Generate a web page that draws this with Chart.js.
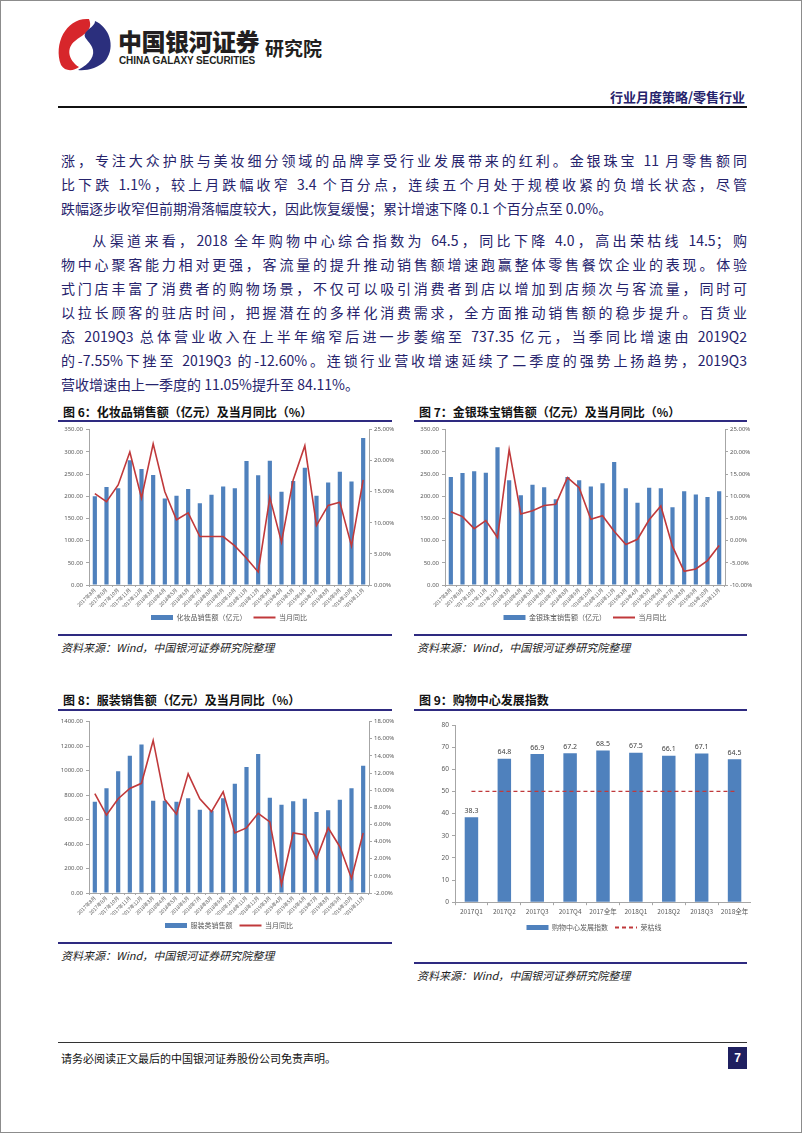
<!DOCTYPE html>
<html>
<head>
<meta charset="utf-8">
<script src="https://cdn.jsdelivr.net/npm/chart.js@4.4.1/dist/chart.umd.min.js"></script>
<style>
  html, body { margin: 0; padding: 0; background: #fff; }
  #page { position: relative; width: 800px; height: 1131px; border: 1px solid #8c8c8c; overflow: hidden;
          font-family: "Noto Sans CJK SC", sans-serif; }
  .txt { position: absolute; left: 60px; width: 686px; font-size: 14px; line-height: 18px; color: #26236c;
         text-align: justify; text-align-last: justify; }
  .txt.last { text-align-last: left; }
  .cap { position: absolute; font-size: 12px; font-weight: bold; color: #111; white-space: nowrap; }
  .rule { position: absolute; height: 2px; background: #2e2a80; }
  .src { position: absolute; font-size: 11px; font-style: italic; color: #222; white-space: nowrap; }
  .box { position: absolute; }
</style>
</head>
<body>
<div id="page">
  <!-- header -->
  <svg style="position:absolute;left:0;top:0" width="140" height="80">
    <path d="M88 18 C66 16 52 42 60 64 C64 71 73 70 78 66 C67 59 65 47 74 40 C81 34 93 30 88 18 Z" fill="#d7262b"/>
    <path d="M94 20 C108 26 115 45 105 59 C97 68 84 70 77 69 C89 63 95 54 91 46 C87 38 80 36 86 30 C90 26 94 24 94 20 Z" fill="#2b2f7d"/>
  </svg>
  <div style="position:absolute;left:117px;top:22px;font-size:24px;font-weight:900;color:#231f20;letter-spacing:-0.5px">中国银河证券</div>
  <div style="position:absolute;left:118px;top:54px;font-size:10px;font-weight:bold;color:#231f20;font-family:'Liberation Sans Narrow','Liberation Sans',sans-serif;letter-spacing:-0.1px">CHINA GALAXY SECURITIES</div>
  <div style="position:absolute;left:264px;top:33px;font-size:19px;font-weight:bold;color:#231f20">研究院</div>
  <div style="position:absolute;right:56px;top:86px;font-size:13px;font-weight:bold;color:#26236c">行业月度策略/零售行业</div>
  <div style="position:absolute;left:57px;top:105px;width:689px;height:2px;background:#111"></div>

  <!-- body text -->
  <div class="txt" style="top:150px">涨，专注大众护肤与美妆细分领域的品牌享受行业发展带来的红利。金银珠宝 11 月零售额同</div>
  <div class="txt" style="top:174px">比下跌 1.1%，较上月跌幅收窄 3.4 个百分点，连续五个月处于规模收紧的负增长状态，尽管</div>
  <div class="txt last" style="top:198px">跌幅逐步收窄但前期滑落幅度较大，因此恢复缓慢；累计增速下降 0.1 个百分点至 0.0%。</div>
  <div class="txt" style="top:230px">&emsp;&emsp;从渠道来看，2018 全年购物中心综合指数为 64.5，同比下降 4.0，高出荣枯线 14.5；购</div>
  <div class="txt" style="top:254px">物中心聚客能力相对更强，客流量的提升推动销售额增速跑赢整体零售餐饮企业的表现。体验</div>
  <div class="txt" style="top:278px">式门店丰富了消费者的购物场景，不仅可以吸引消费者到店以增加到店频次与客流量，同时可</div>
  <div class="txt" style="top:302px">以拉长顾客的驻店时间，把握潜在的多样化消费需求，全方面推动销售额的稳步提升。百货业</div>
  <div class="txt" style="top:326px">态 2019Q3 总体营业收入在上半年缩窄后进一步萎缩至 737.35 亿元，当季同比增速由 2019Q2</div>
  <div class="txt" style="top:350px">的-7.55%下挫至 2019Q3 的-12.60%。连锁行业营收增速延续了二季度的强势上扬趋势，2019Q3</div>
  <div class="txt last" style="top:374px">营收增速由上一季度的 11.05%提升至 84.11%。</div>

  <!-- figure 6 / 7 -->
  <div class="cap" style="left:62px;top:402px">图 6：化妆品销售额（亿元）及当月同比（%）</div>
  <div class="rule" style="left:57px;top:419px;width:334px"></div>
  <div class="box" style="left:58px;top:422px;width:340px;height:210px"><canvas id="c6"></canvas></div>
  <div class="rule" style="left:57px;top:633px;width:334px"></div>
  <div class="src" style="left:60px;top:638px">资料来源：Wind，中国银河证券研究院整理</div>

  <div class="cap" style="left:418px;top:402px">图 7：金银珠宝销售额（亿元）及当月同比（%）</div>
  <div class="rule" style="left:413px;top:419px;width:333px"></div>
  <div class="box" style="left:414px;top:422px;width:340px;height:210px"><canvas id="c7"></canvas></div>
  <div class="rule" style="left:413px;top:633px;width:333px"></div>
  <div class="src" style="left:416px;top:638px">资料来源：Wind，中国银河证券研究院整理</div>

  <!-- figure 8 / 9 -->
  <div class="cap" style="left:62px;top:690px">图 8：服装销售额（亿元）及当月同比（%）</div>
  <div class="rule" style="left:57px;top:708px;width:334px"></div>
  <div class="box" style="left:58px;top:714px;width:340px;height:226px"><canvas id="c8"></canvas></div>
  <div class="rule" style="left:57px;top:941px;width:334px"></div>
  <div class="src" style="left:60px;top:946px">资料来源：Wind，中国银河证券研究院整理</div>

  <div class="cap" style="left:418px;top:690px">图 9：购物中心发展指数</div>
  <div class="rule" style="left:413px;top:708px;width:333px"></div>
  <div class="box" style="left:414px;top:714px;width:336px;height:226px"><canvas id="c9"></canvas></div>
  <div class="rule" style="left:413px;top:961px;width:333px"></div>
  <div class="src" style="left:416px;top:966px">资料来源：Wind，中国银河证券研究院整理</div>

  <!-- footer -->
  <div style="position:absolute;left:57px;top:1041px;width:689px;height:1px;background:#333"></div>
  <div style="position:absolute;left:60px;top:1049px;font-size:11px;color:#111">请务必阅读正文最后的中国银河证券股份公司免责声明。</div>
  <div style="position:absolute;left:727px;top:1046px;width:19px;height:22px;background:#1f2060;color:#fff;font-size:12px;font-weight:bold;text-align:center;line-height:22px;font-family:'Liberation Sans',sans-serif">7</div>
</div>

<script>
// month labels shared by figs 6-8
const months = ['2017年8月', '2017年9月', '2017年10月', '2017年11月', '2017年12月',
  '2018年3月', '2018年4月', '2018年5月', '2018年6月', '2018年7月', '2018年8月', '2018年9月',
  '2018年10月', '2018年11月', '2018年12月',
  '2019年3月', '2019年4月', '2019年5月', '2019年6月', '2019年7月', '2019年8月', '2019年9月',
  '2019年10月', '2019年11月'];

// fig 6: cosmetics
const cosmeticSales = [200, 221, 218, 281, 261, 248, 195, 201, 216, 184, 203, 222,
  218, 279, 247, 280, 210, 234, 264, 201, 231, 255, 233, 331];
const cosmeticYoy = [14.7, 13.4, 16.1, 21.4, 14.0, 22.7, 15.0, 10.5, 11.6, 7.8, 7.8, 7.8,
  6.3, 4.3, 2.1, 14.1, 6.9, 16.9, 22.4, 9.6, 12.8, 13.3, 6.3, 16.9];

// fig 7: gold & jewellery
const jewelSales = [243, 252, 256, 253, 310, 236, 202, 226, 220, 193, 243, 236,
  222, 229, 277, 218, 185, 219, 218, 175, 211, 204, 198, 211];
const jewelYoy = [6.5, 5.4, 2.7, 4.5, 0.7, 20.5, 6.0, 6.7, 7.9, 8.2, 14.2, 11.9,
  4.8, 5.6, 2.1, -0.9, 0.3, 4.7, 7.8, -1.3, -6.9, -6.4, -4.5, -1.1];

// fig 8: apparel
const apparelSales = [745, 856, 995, 1121, 1213, 753, 753, 745, 773, 680, 672, 773,
  892, 1029, 1135, 778, 720, 750, 770, 661, 675, 761, 856, 1040];
const apparelYoy = [9.6, 7.1, 9.0, 10.2, 10.8, 15.8, 8.9, 7.2, 11.9, 9.0, 7.5, 9.8,
  5.0, 5.6, 7.3, 6.3, -1.0, 5.0, 4.8, 2.0, 5.6, 3.4, -0.3, 5.0];

// fig 9: shopping mall index
const mallQuarters = ['2017Q1', '2017Q2', '2017Q3', '2017Q4', '2017全年', '2018Q1', '2018Q2', '2018Q3', '2018全年'];
const mallIndex = [38.3, 64.8, 66.9, 67.2, 68.5, 67.5, 66.1, 67.1, 64.5];
const boomLine = [50, 50, 50, 50, 50, 50, 50, 50, 50];

const BLUE = '#4f81bd';
const RED = '#c0393b';
const AXIS = '#a6a6a6';
const TICK = '#595959';

function legendLabels(chart) {
  const items = Chart.defaults.plugins.legend.labels.generateLabels(chart);
  items.forEach(it => {
    const ds = chart.data.datasets[it.datasetIndex];
    if (ds.type === 'line') {
      it.lineWidth = 2;
      it.strokeStyle = ds.borderColor;
      it.lineDash = ds.borderDash || [];
    }
  });
  return items;
}

function comboChart(id, bars, yoy, barLabel, left, right) {
  new Chart(document.getElementById(id), {
    data: {
      labels: months,
      datasets: [
        {
          type: 'line', label: '当月同比', data: yoy, yAxisID: 'y1',
          borderColor: RED, backgroundColor: RED, borderWidth: 1.6,
          pointRadius: 0, tension: 0, pointStyle: 'line', order: 0
        },
        {
          type: 'bar', label: barLabel, data: bars, yAxisID: 'y',
          backgroundColor: BLUE, barPercentage: 0.72, categoryPercentage: 0.5,
          pointStyle: 'rect', order: 1
        }
      ]
    },
    options: {
      responsive: true,
      maintainAspectRatio: false,
      animation: false,
      layout: { padding: { top: 6, left: 0, right: 0, bottom: 2 } },
      plugins: {
        legend: {
          position: 'bottom',
          reverse: true,
          labels: {
            usePointStyle: true, pointStyleWidth: 22, boxHeight: 5,
            padding: 7, color: TICK,
            font: { family: 'Noto Sans CJK SC', size: 7 },
            generateLabels: legendLabels
          }
        },
        tooltip: { enabled: false }
      },
      scales: {
        x: {
          grid: { drawOnChartArea: false, drawTicks: true, tickLength: 2, color: AXIS },
          border: { color: AXIS },
          ticks: { minRotation: 45, maxRotation: 45, autoSkip: false, color: TICK,
                   font: { family: 'Noto Sans CJK SC', size: 5 }, padding: 0 },
          afterFit: s => { s.height = 22; }
        },
        y: {
          position: 'left', min: left.min, max: left.max,
          grid: { drawOnChartArea: false, tickLength: 3, color: AXIS },
          border: { color: AXIS },
          ticks: { stepSize: left.step, color: TICK, font: { family: 'Noto Sans', size: 6 },
                   callback: v => v.toFixed(2) },
          afterFit: s => { s.width = 30; }
        },
        y1: {
          position: 'right', min: right.min, max: right.max,
          grid: { drawOnChartArea: false, tickLength: 3, color: AXIS },
          border: { color: AXIS },
          ticks: { stepSize: right.step, color: TICK, padding: 2, font: { family: 'Noto Sans', size: 6 },
                   callback: v => v.toFixed(2) + '%' },
          afterFit: s => { s.width = 30; }
        }
      }
    }
  });
}

comboChart('c6', cosmeticSales, cosmeticYoy, '化妆品销售额（亿元）',
  { min: 0, max: 350, step: 50 }, { min: 0, max: 25, step: 5 });
comboChart('c7', jewelSales, jewelYoy, '金银珠宝销售额（亿元）',
  { min: 0, max: 350, step: 50 }, { min: -10, max: 25, step: 5 });
comboChart('c8', apparelSales, apparelYoy, '服装类销售额',
  { min: 0, max: 1400, step: 200 }, { min: -2, max: 18, step: 2 });

// values above the bars of fig 9
const barValues = {
  id: 'barValues',
  afterDatasetsDraw(chart) {
    const ctx = chart.ctx;
    const meta = chart.getDatasetMeta(0);
    ctx.save();
    ctx.font = '7px "Noto Sans"';
    ctx.fillStyle = '#404040';
    ctx.textAlign = 'center';
    ctx.textBaseline = 'bottom';
    meta.data.forEach((bar, i) => {
      ctx.fillText(mallIndex[i].toFixed(1), bar.x, bar.y - 3);
    });
    ctx.restore();
  }
};

new Chart(document.getElementById('c9'), {
  data: {
    labels: mallQuarters,
    datasets: [
      {
        type: 'bar', label: '购物中心发展指数', data: mallIndex,
        backgroundColor: BLUE, barPercentage: 0.82, categoryPercentage: 0.5,
        pointStyle: 'rect', order: 1
      },
      {
        type: 'line', label: '荣枯线', data: boomLine,
        borderColor: RED, backgroundColor: RED, borderWidth: 1.3, borderDash: [4, 3],
        pointRadius: 0, pointStyle: 'line', order: 0
      }
    ]
  },
  options: {
    responsive: true,
    maintainAspectRatio: false,
    animation: false,
    layout: { padding: { top: 10, left: 22, right: 0, bottom: 0 } },
    plugins: {
      legend: {
        position: 'bottom',
        reverse: true,
        labels: {
          usePointStyle: true, pointStyleWidth: 22, boxHeight: 5,
          padding: 7, color: TICK,
          font: { family: 'Noto Sans CJK SC', size: 7 },
          generateLabels: legendLabels
        }
      },
      tooltip: { enabled: false }
    },
    scales: {
      x: {
        grid: { drawOnChartArea: false, tickLength: 3, color: AXIS },
        border: { color: AXIS },
        ticks: { maxRotation: 0, color: TICK, font: { family: 'Noto Sans CJK SC', size: 6.5 }, padding: 2 }
      },
      y: {
        min: 0, max: 80,
        grid: { drawOnChartArea: false, tickLength: 3, color: AXIS },
        border: { color: AXIS },
        ticks: { stepSize: 10, color: TICK, font: { family: 'Noto Sans', size: 6.5 } },
        afterFit: s => { s.width = 18; }
      }
    }
  },
  plugins: [barValues]
});
</script>
</body>
</html>
